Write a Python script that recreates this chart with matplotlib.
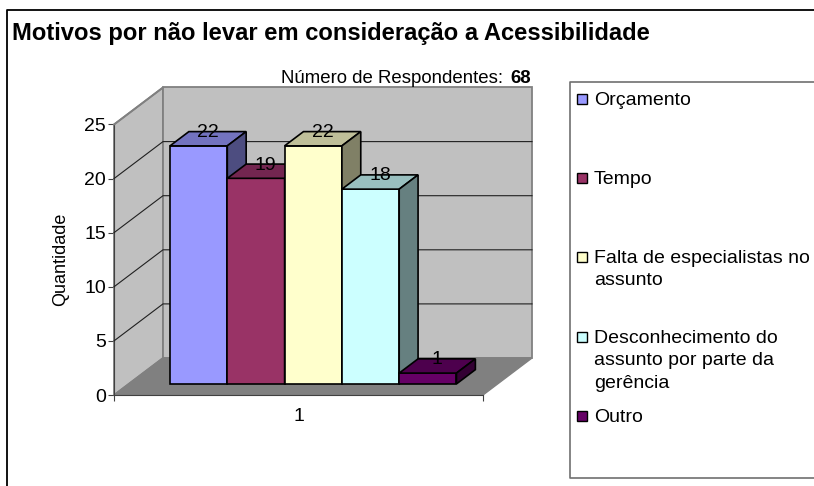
import matplotlib
matplotlib.use("Agg")
import matplotlib.pyplot as plt
from matplotlib.lines import Line2D
from matplotlib.patches import Polygon, Rectangle

plt.rcParams['font.family'] = ['Liberation Sans', 'DejaVu Sans']

categories = ["Orçamento", "Tempo", "Falta de especialistas no\nassunto",
              "Desconhecimento do\nassunto por parte da\ngerência", "Outro"]
values = [22, 19, 22, 18, 1]
front_colors = ["#9999FF", "#993366", "#FFFFCC", "#CCFFFF", "#660066"]
top_colors = ["#7373BF", "#732650", "#BFBF99", "#99BFBF", "#4D004D"]
side_colors = ["#4D4D80", "#4D1A33", "#808066", "#668080", "#330033"]
y_ticks = [0, 5, 10, 15, 20, 25]
x_labels = ["1"]
legend_y = [99, 178, 257, 337, 416]

W, H = 814, 486
fig = plt.figure(figsize=(W / 100, H / 100), dpi=100)


def fx(x):
    return x / W


def fy(y):
    return 1 - y / H


# axes = front plane of the 3d box
left, right, top, bottom = 114, 483, 124.5, 395
ax = fig.add_axes([fx(left), fy(bottom), fx(right - left), (bottom - top) / H])
bar_w = 57.3
xmax = (right - left) / bar_w
ax.set_xlim(0, xmax)
ax.set_ylim(0, 25)
ax.patch.set_visible(False)
for s in ['top', 'right']:
    ax.spines[s].set_visible(False)
ax.spines['bottom'].set_color('#404040')
ax.spines['left'].set_color('#404040')

# depth offset of the box in data units
dx = 49 / bar_w
dy = 37 / ((bottom - top) / 25)


def proj(x, v, d):
    return (x + d * dx, v + d * dy)


def poly(pts, fc, ec, lw=1.0, z=2):
    ax.add_patch(Polygon(pts, closed=True, facecolor=fc, edgecolor=ec,
                         linewidth=lw, clip_on=False, zorder=z, joinstyle='miter'))


# walls and floor
poly([proj(0, 0, 0), proj(0, 25, 0), proj(0, 25, 1), proj(0, 0, 1)], '#C0C0C0', '#808080', 1.3)
poly([proj(0, 0, 1), proj(0, 25, 1), proj(xmax, 25, 1), proj(xmax, 0, 1)], '#C0C0C0', '#808080', 1.3)
poly([proj(0, 0, 0), proj(0, 0, 1), proj(xmax, 0, 1), proj(xmax, 0, 0)], '#808080', '#808080', 1.0)

for t in y_ticks[1:-1]:
    a, b, c = proj(0, t, 0), proj(0, t, 1), proj(xmax, t, 1)
    ax.plot([a[0], b[0], c[0]], [a[1], b[1], c[1]], color='#202020', lw=0.8,
            clip_on=False, zorder=3)
a, b = proj(0, 25, 0), proj(0, 25, 1)
ax.plot([a[0], b[0]], [a[1], b[1]], color='#808080', lw=1.3, clip_on=False, zorder=3)

# bars
d0 = 0.3
d1 = 0.685
x0 = (170 - left - d0 * 49) / bar_w
for i, v in enumerate(values):
    xa, xb = x0 + i, x0 + i + 1
    poly([proj(xa, 0, d0), proj(xa, v, d0), proj(xb, v, d0), proj(xb, 0, d0)],
         front_colors[i], 'black', 1.2, 4)
    poly([proj(xa, v, d0), proj(xa, v, d1), proj(xb, v, d1), proj(xb, v, d0)],
         top_colors[i], 'black', 1.2, 4)
    poly([proj(xb, 0, d0), proj(xb, 0, d1), proj(xb, v, d1), proj(xb, v, d0)],
         side_colors[i], 'black', 1.2, 4)
for i, v in enumerate(values):
    lx, ly = proj(x0 + i + 0.5, v, d1)
    ax.text(lx - 0.5 * (d1 - d0) * dx, ly - 0.1, str(v), ha='center', va='center',
            fontsize=14, color='black', zorder=6, clip_on=False)

ax.set_yticks(y_ticks)
ax.set_xticks([0, xmax], labels=['', ''])
ax.set_xticks([xmax / 2], labels=x_labels, minor=True)
ax.tick_params(axis='x', which='minor', length=0, labelsize=14, pad=9)
ax.tick_params(axis='x', which='major', length=4, color='#404040')
ax.tick_params(axis='y', length=4.3, labelsize=14, pad=1.5, color='#404040')
ax.set_ylabel("Quantidade", fontsize=13)
ax.yaxis.set_label_coords((69 - left) / (right - left), (bottom - 259) / (bottom - top))

# chart frame (runs off the image at right and bottom)
fig.add_artist(Line2D([fx(7), fx(7), fx(W)], [fy(H), fy(10), fy(10)], color='black', lw=1.3))
fig.text(fx(12), fy(40), "Motivos por não levar em consideração a Acessibilidade",
         fontsize=17.1, fontweight='bold', ha='left', va='baseline')

fig.text(fx(503), fy(83), "Número de Respondentes:", fontsize=13.4, ha='right', va='baseline')
fig.text(fx(510), fy(83), "68", fontsize=13.4, fontweight='bold', ha='left', va='baseline')

# legend box
fig.add_artist(Line2D([fx(W), fx(569.5), fx(569.5), fx(W)], [fy(82), fy(82), fy(477.5), fy(477.5)],
                      color='#707070', lw=1.2))
for name, c, y in zip(categories, front_colors, legend_y):
    fig.add_artist(Rectangle((fx(577), fy(y + 5)), 10 / W, 10 / H, facecolor=c,
                             edgecolor='black', lw=1.0, transform=fig.transFigure))
    fig.text(fx(594), fy(y - 7), name, fontsize=14, ha='left', va='top', linespacing=1.41)

fig.savefig("out.png", dpi=100)
